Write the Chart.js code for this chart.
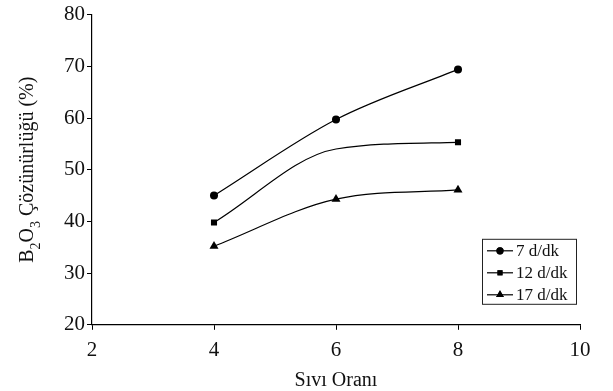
<!DOCTYPE html>
<html>
<head>
<meta charset="utf-8">
<script src="https://cdn.jsdelivr.net/npm/chart.js@4/dist/chart.umd.min.js"></script>
<style>
html,body{margin:0;padding:0;background:#fff;}
#wrap{width:613px;height:391px;position:relative;}
</style>
</head>
<body>
<div id="wrap"><canvas id="c" width="613" height="391"></canvas></div>
<script>
const xValues = [4, 6, 8];
const series7 = [45.0, 59.7, 69.4];
const series12 = [39.8, 54.0, 55.3];
const series17 = [35.2, 44.3, 46.1];
const seriesLabels = ['7 d/dk', '12 d/dk', '17 d/dk'];
const xTicks = [2, 4, 6, 8, 10];
const yTicks = [20, 30, 40, 50, 60, 70, 80];
const xTitle = 'Sıvı Oranı';
const yTitleParts = [['B', false], ['2', true], ['O', false], ['3', true], [' Çözünürlüğü (%)', false]];

const FONT = '"Liberation Serif", "Times New Roman", serif';
const styles = ['circle', 'rect', 'triangle'];

function pts(arr) { return xValues.map((x, i) => ({x: x, y: arr[i]})); }

const datasets = [series7, series12, series17].map((s, i) => ({
  label: seriesLabels[i],
  data: pts(s),
  borderColor: '#000',
  backgroundColor: '#000',
  borderWidth: 1.2,
  pointStyle: styles[i],
  pointRadius: i === 1 ? [4.3, 0, 4.3] : (i === 2 ? 5.2 : 4),
  pointBorderWidth: 0,
  cubicInterpolationMode: 'monotone',
  fill: false
}));

const yTitlePlugin = {
  id: 'yTitle',
  afterDraw(chart) {
    const ctx = chart.ctx, ca = chart.chartArea;
    ctx.save();
    ctx.fillStyle = '#111';
    const big = 20, small = 14;
    let total = 0;
    yTitleParts.forEach(p => { ctx.font = (p[1] ? small : big) + 'px ' + FONT; total += ctx.measureText(p[0]).width; });
    const cy = (ca.top + ca.bottom) / 2;
    ctx.translate(28, cy);
    ctx.rotate(-Math.PI / 2);
    ctx.textBaseline = 'middle';
    ctx.textAlign = 'left';
    let x = -total / 2;
    yTitleParts.forEach(p => {
      ctx.font = (p[1] ? small : big) + 'px ' + FONT;
      ctx.fillText(p[0], x, p[1] ? 8 : 0);
      x += ctx.measureText(p[0]).width;
    });
    ctx.restore();
  }
};

const legendPlugin = {
  id: 'boxLegend',
  afterDraw(chart) {
    const ctx = chart.ctx, ca = chart.chartArea;
    const w = 94, h = 65;
    const right = ca.right - 4, bottom = ca.bottom - 21;
    const left = right - w, top = bottom - h;
    ctx.save();
    ctx.fillStyle = '#fff';
    ctx.fillRect(left, top, w, h);
    ctx.strokeStyle = '#222';
    ctx.lineWidth = 1;
    ctx.strokeRect(left + 0.5, top + 0.5, w, h);
    ctx.font = '17px ' + FONT;
    ctx.textBaseline = 'middle';
    ctx.fillStyle = '#111';
    chart.data.datasets.forEach((ds, i) => {
      const y = top + 12 + i * 22;
      ctx.strokeStyle = '#000';
      ctx.lineWidth = 1.2;
      ctx.beginPath();
      ctx.moveTo(left + 5, y);
      ctx.lineTo(left + 31, y);
      ctx.stroke();
      Chart.helpers.drawPoint(ctx, {pointStyle: styles[i], radius: i === 2 ? 4.5 : 3.6, borderWidth: 0}, left + 18, y);
      ctx.fillStyle = '#000';
      ctx.fill();
      ctx.fillStyle = '#111';
      ctx.fillText(ds.label, left + 34, y + 1);
    });
    ctx.restore();
  }
};

new Chart(document.getElementById('c'), {
  type: 'line',
  data: { datasets: datasets },
  plugins: [yTitlePlugin, legendPlugin],
  options: {
    responsive: false,
    animation: false,
    devicePixelRatio: 1,
    layout: { padding: { left: 62, right: 33, top: 4, bottom: 0 } },
    plugins: { legend: { display: false }, tooltip: { enabled: false } },
    scales: {
      x: {
        type: 'linear', min: 2, max: 10,
        afterBuildTicks: s => { s.ticks = xTicks.map(v => ({value: v})); },
        grid: { display: true, drawOnChartArea: false, drawTicks: true, tickLength: 5, color: '#000' },
        border: { display: true, color: '#000', width: 1.2 },
        ticks: { color: '#111', font: { family: FONT, size: 21 }, padding: 8, maxRotation: 0 },
        title: { display: true, text: xTitle, color: '#111', font: { family: FONT, size: 20, lineHeight: 1.0 }, padding: { top: 0, bottom: 0 } }
      },
      y: {
        min: 20, max: 80,
        afterBuildTicks: s => { s.ticks = yTicks.map(v => ({value: v})); },
        grid: { display: true, drawOnChartArea: false, drawTicks: true, tickLength: 5, color: '#000' },
        border: { display: true, color: '#000', width: 1.2 },
        ticks: { color: '#111', font: { family: FONT, size: 21 }, padding: 2 }
      }
    }
  }
});
</script>
</body>
</html>
